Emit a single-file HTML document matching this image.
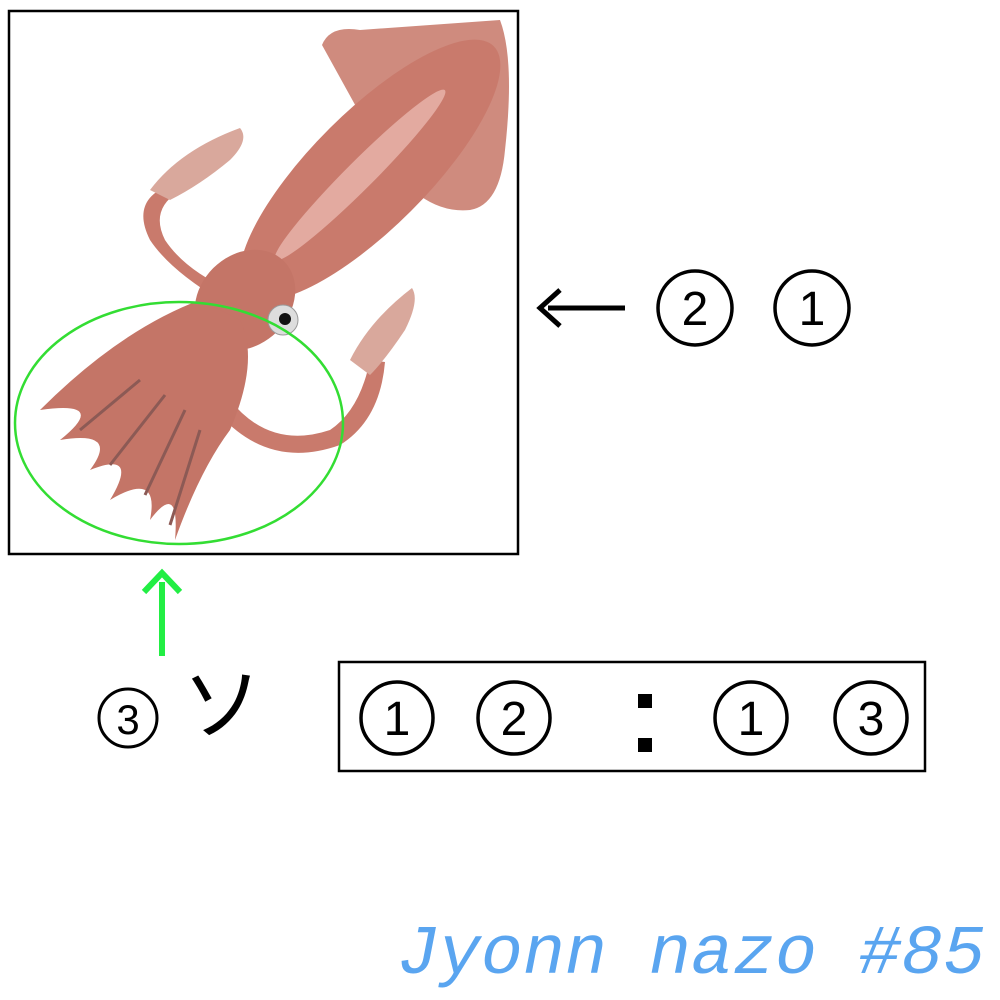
<!DOCTYPE html>
<html><head><meta charset="utf-8"><style>
html,body{margin:0;padding:0;background:#fff;}
body{width:1000px;height:1000px;position:relative;overflow:hidden;font-family:"Liberation Sans","Noto Sans CJK JP",sans-serif;}
</style></head><body>
<svg width="1000" height="1000" viewBox="0 0 1000 1000" xmlns="http://www.w3.org/2000/svg" style="position:absolute;left:0;top:0">
<rect x="9" y="11" width="509" height="543" fill="#fff" stroke="#000" stroke-width="2.5"/>
<!-- squid -->
<g>
 <!-- fin -->
 <path d="M322,45 Q330,25 360,30 L500,20 Q515,60 505,150 Q500,205 470,210 Q420,215 380,150 Z" fill="#cf8b7e"/>
 <!-- tentacle left -->
 <path d="M220,300 Q170,270 150,240 Q130,200 170,185 L178,192 Q150,210 165,240 Q185,270 230,290 Z" fill="#c97a6c"/>
 <path d="M150,190 Q180,150 240,128 Q250,140 230,160 Q200,185 170,200 Z" fill="#d9a89c"/>
 <!-- tentacle right -->
 <path d="M230,400 Q270,450 330,430 Q360,410 370,360 L385,362 Q380,420 340,445 Q270,470 220,415 Z" fill="#c97a6c"/>
 <path d="M350,360 Q370,320 412,288 Q420,300 405,330 Q385,360 370,375 Z" fill="#d9a89c"/>
 <!-- body -->
 <ellipse cx="370" cy="170" rx="175" ry="58" transform="rotate(-45 370 170)" fill="#c97a6c"/>
 <ellipse cx="360" cy="175" rx="120" ry="14" transform="rotate(-45 360 175)" fill="#e3aaa0"/>
 <!-- head -->
 <ellipse cx="245" cy="300" rx="55" ry="45" transform="rotate(-45 245 300)" fill="#c47567"/>
 <circle cx="283" cy="320" r="15" fill="#ddd" stroke="#999"/>
 <circle cx="285" cy="319" r="6" fill="#111"/>
 <!-- arms -->
 <path d="M200,300 Q120,330 40,410 Q110,400 60,440 Q120,430 90,470 Q140,450 110,500 Q160,470 150,520 Q180,480 175,540 Q200,470 230,430 Q260,360 240,320 Z" fill="#c47567"/>
 <path d="M80,430 L140,380 M110,465 L165,395 M145,495 L185,410 M170,525 L200,430" stroke="#8c5a55" stroke-width="3" fill="none"/>
</g>
<ellipse cx="179" cy="423" rx="164" ry="121" fill="none" stroke="#33dd33" stroke-width="2.5"/>
<!-- black arrow -->
<line x1="548" y1="308" x2="625" y2="308" stroke="#000" stroke-width="5"/>
<path d="M560,290 L540,308 L560,326" fill="none" stroke="#000" stroke-width="5"/>
<g fill="none" stroke="#000" stroke-width="3.5">
 <circle cx="695" cy="308" r="37"/><circle cx="812" cy="308" r="37"/>
</g>
<g font-family="Liberation Sans, sans-serif" font-size="48" text-anchor="middle">
 <text x="695" y="325">2</text><text x="812" y="325">1</text>
</g>
<!-- green arrow -->
<line x1="162" y1="582" x2="162" y2="656" stroke="#22ee44" stroke-width="6"/>
<path d="M144,592 L162,573 L180,592" fill="none" stroke="#22ee44" stroke-width="6"/>
<circle cx="128" cy="718" r="29" fill="none" stroke="#000" stroke-width="3"/>
<text x="128" y="734" font-size="42" text-anchor="middle" font-family="Liberation Sans, sans-serif">3</text>
<text x="222" y="733" font-size="80" text-anchor="middle" font-family="Noto Sans CJK JP, sans-serif">ソ</text>
<!-- box -->
<rect x="339" y="662" width="586" height="109" fill="#fff" stroke="#000" stroke-width="2.5"/>
<g fill="none" stroke="#000" stroke-width="3.5">
 <circle cx="397" cy="718" r="36"/><circle cx="514" cy="718" r="36"/>
 <circle cx="751" cy="718" r="36"/><circle cx="871" cy="718" r="36"/>
</g>
<g font-family="Liberation Sans, sans-serif" font-size="48" text-anchor="middle">
 <text x="397" y="735">1</text><text x="514" y="735">2</text>
 <text x="751" y="735">1</text><text x="871" y="735">3</text>
</g>
<rect x="638" y="694" width="14" height="14" fill="#000"/>
<rect x="638" y="738" width="14" height="14" fill="#000"/>
<text x="985" y="973" font-size="70" text-anchor="end" font-style="italic" fill="#5aa5f0" font-family="Liberation Mono, monospace">Jyonn nazo #85</text>
</svg>
</body></html>
